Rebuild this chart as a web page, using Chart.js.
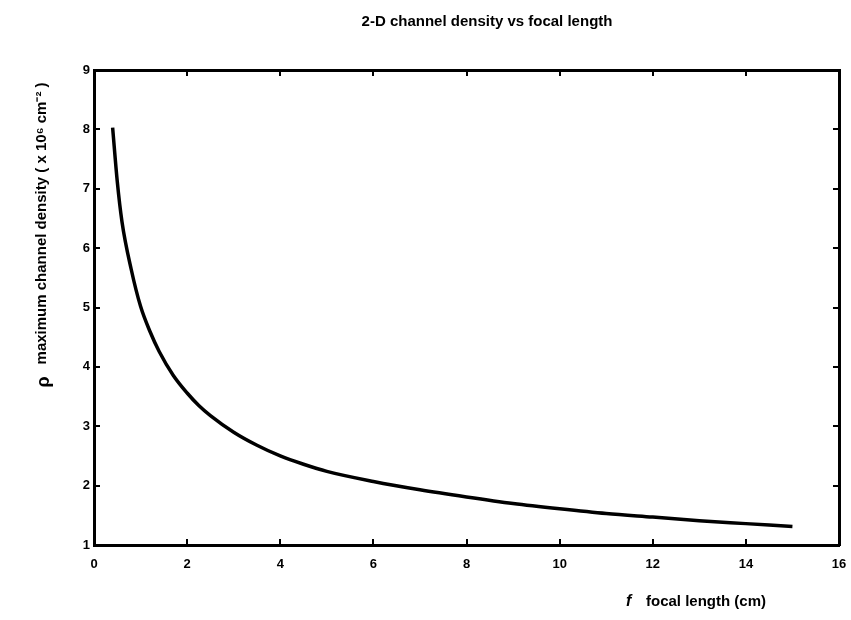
<!DOCTYPE html>
<html>
<head>
<meta charset="utf-8">
<script src="https://cdn.jsdelivr.net/npm/chart.js@4.4.1/dist/chart.umd.min.js"></script>
<style>
  html, body { margin: 0; padding: 0; background: #fff; }
  #wrap { width: 851px; height: 620px; position: relative; }
</style>
</head>
<body>
<div id="wrap"><canvas id="densityChart"></canvas></div>
<script>
// focal length (cm) and max channel density (x 10^6 cm^-2)
const focalLengths = [0.4, 0.5, 0.6, 0.8, 1, 1.2, 1.4, 1.7, 2, 2.25, 2.5, 3, 3.5, 4, 4.5, 5, 6, 7, 8, 9, 10, 11, 12, 13, 14, 15];
const densities = [8.03, 7.12, 6.45, 5.64, 5.02, 4.6, 4.26, 3.86, 3.56, 3.35, 3.18, 2.90, 2.68, 2.50, 2.36, 2.24, 2.07, 1.93, 1.81, 1.70, 1.61, 1.53, 1.47, 1.41, 1.36, 1.31];

const xTicks = [0, 2, 4, 6, 8, 10, 12, 14, 16];
const yTicks = [1, 2, 3, 4, 5, 6, 7, 8, 9];

const chartTitle = '2-D channel density vs focal length';
const xTitle = 'focal length (cm)';
const yTitle = 'maximum channel density ( x 10\u2076 cm\u207B\u00B2 )';

const FONT = '"Liberation Sans", Arial, Helvetica, sans-serif';

// titles are drawn by hand so they can sit off-centre like the original
const titlesPlugin = {
    id: 'titles',
    afterDraw(chart) {
        const c = chart.ctx;
        c.save();
        c.fillStyle = '#000';
        c.textBaseline = 'middle';

        c.font = 'bold 15px ' + FONT;
        c.textAlign = 'center';
        c.fillText(chartTitle, 487, 22);

        // x title: italic f then the words
        c.textAlign = 'left';
        c.font = 'italic bold 16px ' + FONT;
        c.fillText('f', 626, 602);
        c.font = 'bold 15px ' + FONT;
        c.fillText(xTitle, 646, 602);

        // y title, rotated
        c.translate(42, 235);
        c.rotate(-Math.PI / 2);
        c.textAlign = 'left';
        c.font = 'bold 18px ' + FONT;
        const rho = '\u03C1';
        const rhoW = c.measureText(rho).width;
        c.font = 'bold 15px ' + FONT;
        const restW = c.measureText(yTitle).width;
        const total = rhoW + 12 + restW;
        c.font = 'bold 18px ' + FONT;
        c.fillText(rho, -total / 2, 2);
        c.font = 'bold 15px ' + FONT;
        c.fillText(yTitle, -total / 2 + rhoW + 12, 0);
        c.restore();
    }
};

const gridOpts = { drawOnChartArea: false, tickLength: -6, color: '#000', lineWidth: 2 };
const borderOpts = { color: '#000', width: 3 };
const tickFont = { family: FONT, size: 13, weight: 'bold' };

new Chart(document.getElementById('densityChart'), {
    type: 'line',
    data: {
        datasets: [{
            data: focalLengths.map((f, i) => ({ x: f, y: densities[i] })),
            borderColor: '#000',
            borderWidth: 3.5,
            pointRadius: 0,
            fill: false,
            cubicInterpolationMode: 'monotone'
        }]
    },
    options: {
        responsive: true,
        maintainAspectRatio: false,
        animation: false,
        devicePixelRatio: 1,
        layout: { padding: { top: 70, right: 12, left: 0, bottom: 0 } },
        plugins: { legend: { display: false }, tooltip: { enabled: false }, title: { display: false } },
        scales: {
            x: {
                type: 'linear', position: 'bottom', min: 0, max: 16,
                afterBuildTicks: s => { s.ticks = xTicks.map(v => ({ value: v })); },
                afterFit: s => { s.height = 75; s.paddingLeft = 0; s.paddingRight = 0; },
                grid: gridOpts, border: borderOpts,
                ticks: { font: tickFont, color: '#000', padding: 18, maxRotation: 0 }
            },
            x2: {
                type: 'linear', position: 'top', min: 0, max: 16,
                afterBuildTicks: s => { s.ticks = xTicks.map(v => ({ value: v })); },
                afterFit: s => { s.height = 0; s.paddingLeft = 0; s.paddingRight = 0; },
                grid: gridOpts, border: borderOpts,
                ticks: { display: false }
            },
            y: {
                type: 'linear', position: 'left', min: 1, max: 9,
                afterBuildTicks: s => { s.ticks = yTicks.map(v => ({ value: v })); },
                afterFit: s => { s.width = 94; s.paddingTop = 0; s.paddingBottom = 0; },
                grid: gridOpts, border: borderOpts,
                ticks: { font: tickFont, color: '#000', padding: 10 }
            },
            y2: {
                type: 'linear', position: 'right', min: 1, max: 9,
                afterBuildTicks: s => { s.ticks = yTicks.map(v => ({ value: v })); },
                afterFit: s => { s.width = 0; s.paddingTop = 0; s.paddingBottom = 0; },
                grid: gridOpts, border: borderOpts,
                ticks: { display: false }
            }
        }
    },
    plugins: [titlesPlugin]
});
</script>
</body>
</html>
